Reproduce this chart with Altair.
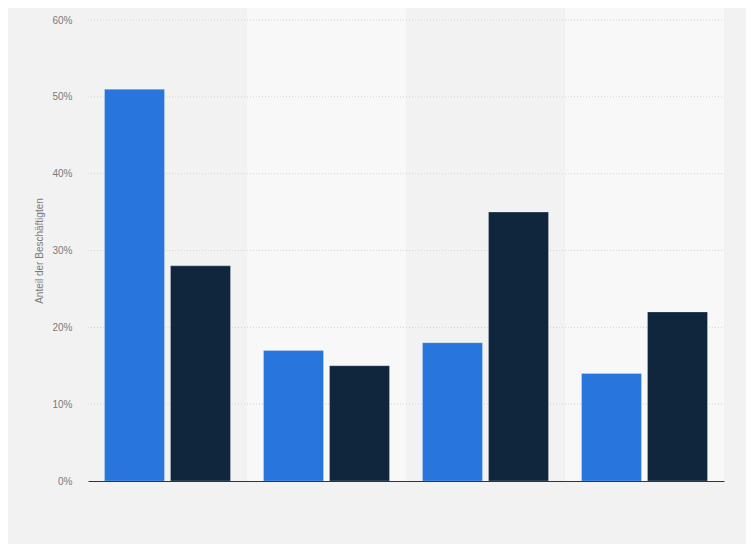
import altair as alt
import pandas as pd

categories = ["Kategorie 1", "Kategorie 2", "Kategorie 3", "Kategorie 4"]
series_names = ["Serie A", "Serie B"]
values_a = [0.51, 0.17, 0.18, 0.14]
values_b = [0.28, 0.15, 0.35, 0.22]
band_shade = ["dunkel", "hell", "dunkel", "hell"]
y_ticks = [0, 0.1, 0.2, 0.3, 0.4, 0.5, 0.6]

rows = []
for c, a, b in zip(categories, values_a, values_b):
    rows.append({"cat": c, "serie": series_names[0], "wert": a})
    rows.append({"cat": c, "serie": series_names[1], "wert": b})
df = pd.DataFrame(rows)
bands = pd.DataFrame({"cat": categories, "shade": band_shade})
grid = pd.DataFrame({"wert": y_ticks[1:]})

W, H = 636, 461

xscale = alt.Scale(domain=categories, paddingInner=0, paddingOuter=0)
yscale = alt.Scale(domain=[0, 0.6], nice=False)

x_axis = alt.Axis(title=None, labels=False, ticks=False, domain=True,
                  domainColor="#333333", domainWidth=1.2, grid=False, zindex=1)
y_axis = alt.Axis(title="Anteil der Beschäftigten", format=".0%", values=y_ticks,
                  domain=False, ticks=False, labelPadding=16, labelFontSize=10, labelColor="#7a7a7a",
                  labelFont="Liberation Sans", titleFont="Liberation Sans", titleFontSize=10,
                  titleFontWeight="normal", titleColor="#7a7a7a", titlePadding=7,
                  grid=False, zindex=1)

band_layer = alt.Chart(bands).mark_rect().encode(
    x=alt.X("cat:N", scale=xscale, axis=x_axis, sort=categories),
    y=alt.value(-12),
    y2=alt.value(H),
    color=alt.Color("shade:N", scale=alt.Scale(domain=["dunkel", "hell"], range=["#f2f2f2", "#f8f8f8"]), legend=None),
)

grid_layer = alt.Chart(grid).mark_rule(color="#d4d4d4", strokeDash=[1, 2], strokeWidth=1).encode(
    y=alt.Y("wert:Q", scale=yscale, axis=y_axis),
    x=alt.value(0),
    x2=alt.value(W),
)

bar_layer = alt.Chart(df).mark_bar(stroke="#ffffff", strokeOpacity=0.25, strokeWidth=1).encode(
    x=alt.X("cat:N", scale=xscale, sort=categories, axis=x_axis),
    xOffset=alt.XOffset("serie:N", scale=alt.Scale(domain=series_names, paddingInner=0.0909, paddingOuter=0.25)),
    y=alt.Y("wert:Q", scale=yscale, axis=y_axis),
    color=alt.Color("serie:N", scale=alt.Scale(domain=series_names, range=["#2876dd", "#0f263d"]), legend=None),
)

chart = alt.layer(band_layer, grid_layer, bar_layer).resolve_scale(color="independent").properties(
    width=W, height=H,
    autosize=alt.AutoSizeParams(type="none"),
    padding={"left": 80, "top": 12, "right": 22, "bottom": 63},
).configure(background="#f2f2f2").configure_view(stroke=None)

chart.save("out.html", embed_options={"renderer": "svg", "actions": False})
